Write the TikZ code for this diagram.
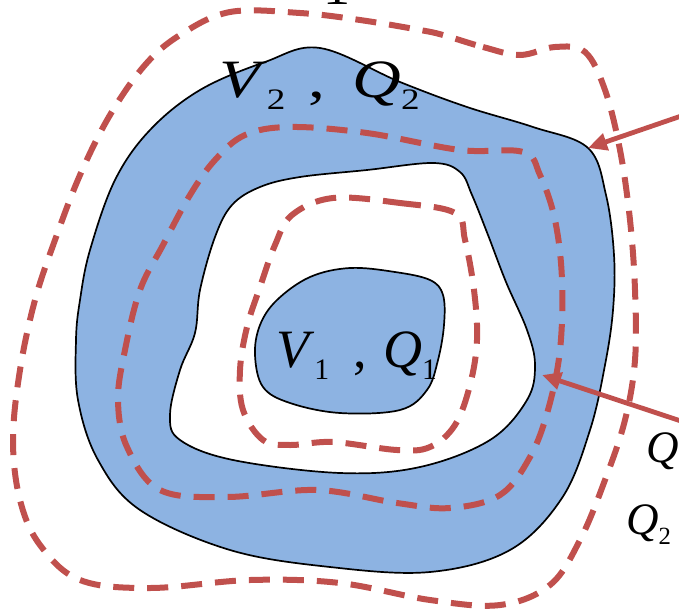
\documentclass[tikz,border=0pt]{standalone}
\usepackage{fontspec}
\setmainfont{Liberation Serif}
\usetikzlibrary{arrows.meta}
\definecolor{regionblue}{RGB}{141,179,226}
\definecolor{fluxred}{RGB}{192,80,77}
\newcommand{\varsub}[2]{\textit{#1}\raisebox{-0.23em}{\scalebox{0.55}{#2}}}

\begin{document}
\begin{tikzpicture}[x=1pt, y=-1pt,
    boundary/.style={draw=black, line width=1.7pt},
    surface/.style={draw=fluxred, line width=6pt, dash pattern=on 21pt off 13pt},
    arrow/.style={-{Triangle[length=19pt,width=17pt]}, draw=fluxred, fill=fluxred, line width=4.8pt},
    symtext/.style={inner sep=0pt, anchor=base west, font=\fontsize{54}{60}\selectfont}
  ]
  \useasboundingbox (0,0) rectangle (679,613);
  % blue shell with hole
  \fill[regionblue, even odd rule]
    plot[smooth cycle, tension=0.6] coordinates {(320,48) (400,82) (467,107) (533,127) (588,148) (606,195) (614,255) (613,310) (605,365) (590,430) (562,498) (510,550) (430,572) (330,567) (230,550) (140,510) (98,460) (78,400) (76,340) (80,300) (90,250) (115,180) (150,130) (200,90) (265,62)}
    plot[smooth cycle, tension=0.6] coordinates {(260,187) (300,177) (367,170) (433,163) (460,172) (472,195) (488,235) (506,282) (527,330) (535,365) (527,400) (490,440) (420,467) (340,473) (233,460) (180,440) (170,415) (180,370) (195,333) (200,290) (215,237) (232,205)};
  \draw[boundary] plot[smooth cycle, tension=0.6] coordinates {(320,48) (400,82) (467,107) (533,127) (588,148) (606,195) (614,255) (613,310) (605,365) (590,430) (562,498) (510,550) (430,572) (330,567) (230,550) (140,510) (98,460) (78,400) (76,340) (80,300) (90,250) (115,180) (150,130) (200,90) (265,62)};
  \draw[boundary] plot[smooth cycle, tension=0.6] coordinates {(260,187) (300,177) (367,170) (433,163) (460,172) (472,195) (488,235) (506,282) (527,330) (535,365) (527,400) (490,440) (420,467) (340,473) (233,460) (180,440) (170,415) (180,370) (195,333) (200,290) (215,237) (232,205)};
  % inner body
  \draw[boundary, fill=regionblue] plot[smooth cycle, tension=0.6] coordinates {(277,300) (310,277) (350,268) (395,272) (430,280) (443,295) (444,325) (438,360) (427,390) (400,410) (340,413) (290,403) (263,387) (255,355) (260,325)};
  % control surfaces
  \draw[surface] plot[smooth cycle, tension=0.6] coordinates {(443,35) (483,47) (520,55) (555,47) (585,52) (605,90) (620,150) (630,220) (635,290) (635,360) (625,420) (605,480) (580,540) (550,585) (500,605) (430,600) (340,583) (250,580) (150,588) (80,580) (40,545) (20,500) (13,440) (20,370) (35,300) (55,240) (80,175) (110,115) (145,65) (180,35) (230,12) (300,13) (360,20) (420,30)};
  \draw[surface] plot[smooth cycle, tension=0.6] coordinates {(290,127) (367,133) (460,150) (523,152) (540,175) (555,220) (562,280) (560,350) (548,410) (530,457) (500,495) (450,508) (397,503) (317,490) (227,497) (160,490) (127,447) (118,400) (125,350) (140,290) (163,245) (190,195) (215,160) (245,135)};
  \draw[surface] plot[smooth cycle, tension=0.6] coordinates {(333,198) (400,203) (455,213) (465,240) (474,290) (477,340) (470,385) (455,425) (430,447) (397,450) (333,442) (290,445) (263,440) (243,410) (240,370) (247,327) (260,287) (275,245) (292,215)};
  % labels
  \node[symtext] (outerlabel) at (219,97) {\scalebox{1.25}[1]{\varsub{V}{2}\hspace{0.34em},\hspace{0.4em}\varsub{Q}{2}}};
  \node[symtext] (innerlabel) at (276,367) {\varsub{V}{1}\hspace{0.45em},\hspace{0.3em}\varsub{Q}{1}};
  \node[symtext, anchor=base] (toplabel) at (337,5) {1};
  \node[symtext, font=\fontsize{45}{50}\selectfont] (fluxlabel) at (646,462) {\textit{Q}};
  \node[symtext, font=\fontsize{45}{50}\selectfont] (outflowlabel) at (626,534) {\varsub{Q}{2}};
  % arrows
  \coordinate (outeredge) at (588,148);
  \coordinate (outertail) at (690,113);
  \coordinate (inneredge) at (542,375);
  \coordinate (innertail) at (690,424);
  \draw[arrow] (outertail) -- (outeredge);
  \draw[arrow] (innertail) -- (inneredge);
\end{tikzpicture}
\end{document}
